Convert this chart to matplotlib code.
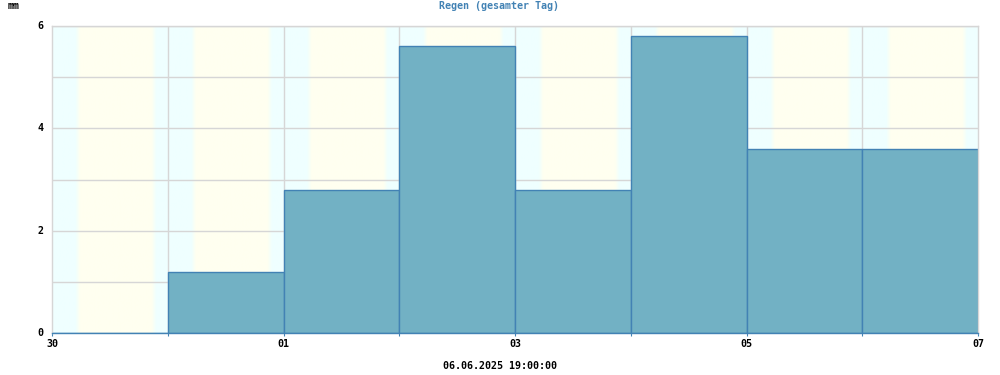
import numpy as np
import matplotlib
matplotlib.use("Agg")
import matplotlib.pyplot as plt
from matplotlib.colors import to_rgb

# ---- data ----
day_labels = ["30", "31", "01", "02", "03", "04", "05", "06", "07"]
rain_mm = [0.0, 1.2, 2.8, 5.6, 2.8, 5.8, 3.6, 3.6]
sunrise_h = 5.3
sunset_h = 21.1
twilight_h = 0.9
title = "Regen (gesamter Tag)"
unit = "mm"
timestamp = "06.06.2025 19:00:00"

FONT = "DejaVu Sans Mono"
FS = 7.2
BLUE = "#4282b4"
GRID = "#d6d6d6"

fig = plt.figure(figsize=(10, 3.75), dpi=100)
ax = fig.add_axes([0.052, 1 - 333 / 375, 0.926, (333 - 26) / 375])

n = len(rain_mm)
# day/night background
night = np.array(to_rgb("#efffff"))
day = np.array(to_rgb("#fffff0"))
t = np.linspace(0, n, n * 24 * 12 + 1)
h = (t % 1) * 24
w_rise = np.clip((h - (sunrise_h - twilight_h / 2)) / twilight_h, 0, 1)
w_set = np.clip(((sunset_h + twilight_h / 2) - h) / twilight_h, 0, 1)
wd = np.minimum(w_rise, w_set)
img = night[None, :] * (1 - wd[:, None]) + day[None, :] * wd[:, None]
ax.imshow(img[None, :, :], extent=[0, n, 0, 6], aspect="auto", zorder=0,
          interpolation="bilinear")

ax.set_xlim(0, n)
ax.set_ylim(0, 6)

# grid
for y in range(1, 7):
    ax.axhline(y, color=GRID, lw=1, zorder=1)
for x in range(1, n):
    ax.axvline(x, color=GRID, lw=1, zorder=1)

ax.bar(np.arange(n), rain_mm, width=1, align="edge", facecolor="#72b1c4",
       edgecolor=BLUE, linewidth=1, zorder=2)

for s in ["top", "right", "left"]:
    ax.spines[s].set_color(GRID)
    ax.spines[s].set_linewidth(1)
ax.spines["bottom"].set_color(BLUE)
ax.spines["bottom"].set_linewidth(1)
ax.spines["bottom"].set_zorder(3)

ax.set_xticks(range(n + 1))
ax.set_xticklabels([lab if i % 2 == 0 else "" for i, lab in enumerate(day_labels)],
                   fontfamily=FONT, fontweight="bold", fontsize=FS)
ax.tick_params(axis="x", length=2, color=BLUE, pad=2)
ax.set_yticks([0, 2, 4, 6])
ax.set_yticklabels(["0", "2", "4", "6"], fontfamily=FONT, fontweight="bold", fontsize=FS)
ax.tick_params(axis="y", length=0, pad=6)
for lab in ax.get_yticklabels():
    lab.set_verticalalignment("center")

fig.text(0.499, 1 - 6 / 375, title, color=BLUE, fontfamily=FONT, fontweight="bold",
         fontsize=FS, ha="center", va="center")
fig.text(0.008, 1 - 6 / 375, unit, color="black", fontfamily=FONT, fontweight="bold",
         fontsize=FS, ha="left", va="center")
fig.text(0.5, 1 - 366 / 375, timestamp, color="black", fontfamily=FONT, fontweight="bold",
         fontsize=FS, ha="center", va="center")

fig.savefig("out.png", dpi=100, facecolor="white")
